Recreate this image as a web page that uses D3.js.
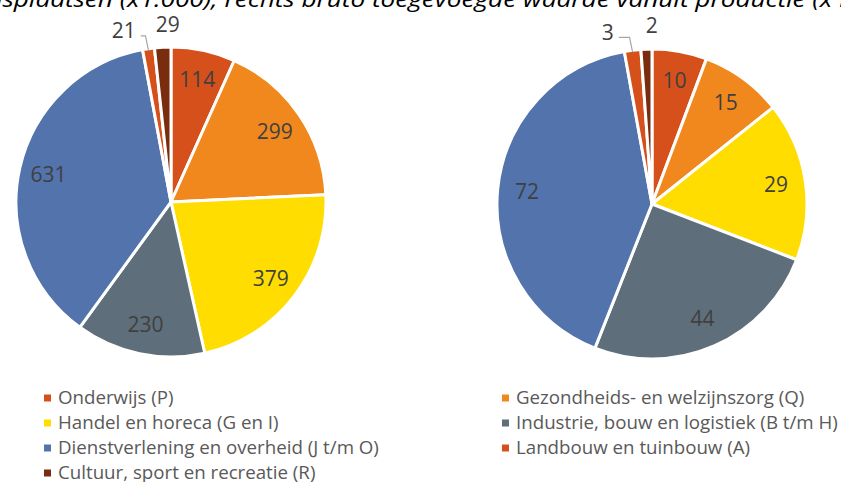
<!DOCTYPE html>
<html>
<head>
<meta charset="utf-8">
<script src="https://cdn.jsdelivr.net/npm/d3@7"></script>
<style>
  body { margin: 0; background: #fff; }
  text { font-family: "Open Sans", "Noto Sans", sans-serif; }
</style>
</head>
<body>
<div id="chart"></div>
<script>
// sectors, clockwise from 12 o'clock
var categories = [
    "Onderwijs (P)",
    "Gezondheids- en welzijnszorg (Q)",
    "Handel en horeca (G en I)",
    "Industrie, bouw en logistiek (B t/m H)",
    "Dienstverlening en overheid (J t/m O)",
    "Landbouw en tuinbouw (A)",
    "Cultuur, sport en recreatie (R)"
];
var werkgelegenheid = [114, 299, 379, 230, 631, 21, 29];   // links, x1.000
var toegevoegdeWaarde = [10, 15, 29, 44, 72, 3, 2];          // rechts
var kleuren = ["#D5501A", "#F0881E", "#FFDD00", "#5E6E7B", "#5273AB", "#D5501A", "#7A2C0E"];
var titel = "Links werkgelegenheid in arbeidsplaatsen (x1.000); rechts bruto toegevoegde waarde vanuit productie (x mld euro)";

var width = 841, height = 482;
var radius = 155;

var svg = d3.select("#chart").append("svg")
    .attr("width", width)
    .attr("height", height);

// title, cut off at the top like the original
var title = svg.append("text")
    .attr("y", 7)
    .attr("font-style", "italic")
    .attr("font-size", 22)
    .attr("fill", "#000")
    .text(titel);
var tNode = title.node();
var iA = titel.indexOf("(x1.000)"), iB = titel.indexOf("productie");
var span = tNode.getStartPositionOfChar(iB).x - tNode.getStartPositionOfChar(iA).x;
var kT = 576 / span;
var offT = 120 - tNode.getStartPositionOfChar(iA).x * kT;
title.attr("transform", "translate(" + offT + ",0) scale(" + kT + ",1)");

var pie = d3.pie().sort(null).value(function(d) { return d; });
var arc = d3.arc().innerRadius(0).outerRadius(radius);
var labelArc = d3.arc().innerRadius(radius * 0.81).outerRadius(radius * 0.81);

function drawPie(values, cx, cy) {
    var total = d3.sum(values);
    var g = svg.append("g")
        .attr("transform", "translate(" + cx + "," + cy + ")");
    var arcs = pie(values);

    g.selectAll("path.slice")
        .data(arcs)
        .enter().append("path")
        .attr("class", "slice")
        .attr("d", arc)
        .attr("fill", function(d, i) { return kleuren[i]; })
        .attr("stroke", "#fff")
        .attr("stroke-width", 3)
        .attr("stroke-linejoin", "round");

    // big slices: label inside
    g.selectAll("text.inside")
        .data(arcs.filter(function(d) { return d.value / total >= 0.03; }))
        .enter().append("text")
        .attr("class", "inside")
        .attr("transform", function(d) { return "translate(" + labelArc.centroid(d) + ")"; })
        .attr("text-anchor", "middle")
        .attr("dy", "0.35em")
        .attr("font-size", 21)
        .attr("fill", "#404040")
        .text(function(d) { return d.value; });

    // small slices: label outside, pushed apart
    var small = arcs.filter(function(d) { return d.value / total < 0.03; }).map(function(d) {
        var a = (d.startAngle + d.endAngle) / 2;
        return {
            d: d, a: a,
            x: Math.sin(a) * (radius + 18) + 6,
            y: -Math.cos(a) * (radius + 18),
            px: Math.sin(a) * radius,
            py: -Math.cos(a) * radius
        };
    });
    var origX = small.map(function(s) { return s.x; });
    for (var i = small.length - 2; i >= 0; i--) {
        if (small[i + 1].x - small[i].x < 44) small[i].x = small[i + 1].x - 44;
    }
    small.forEach(function(s, i) {
        var pushed = s.x !== origX[i];
        var ty = s.y - (pushed ? 0 : 5);
        var t = g.append("text")
            .attr("x", s.x)
            .attr("y", ty)
            .attr("text-anchor", "middle")
            .attr("dy", "0.35em")
            .attr("font-size", 21)
            .attr("fill", "#404040")
            .text(s.d.value);
        if (pushed) {
            var w = t.node().getComputedTextLength();
            var ly = ty + 5;
            g.append("path")
                .attr("d", "M" + (s.x + w / 2 + 5) + "," + ly +
                    "H" + (s.px - 3) + "L" + s.px + "," + (s.py + 2))
                .attr("fill", "none")
                .attr("stroke", "#A6A6A6")
                .attr("stroke-width", 1.2);
        }
    });
}

drawPie(werkgelegenheid, 171, 202);
drawPie(toegevoegdeWaarde, 652, 204);

// legend
var legend = svg.append("g").attr("class", "legend");
var colX = [44, 502], rowY0 = 398, rowH = 25;
var items = legend.selectAll("g.item")
    .data(categories)
    .enter().append("g")
    .attr("class", "item")
    .attr("transform", function(d, i) {
        return "translate(" + colX[i % 2] + "," + (rowY0 + Math.floor(i / 2) * rowH) + ")";
    });
items.append("rect")
    .attr("x", 0).attr("y", -3.5)
    .attr("width", 7).attr("height", 7)
    .attr("fill", function(d, i) { return kleuren[i]; });
var lt = items.append("text")
    .attr("dy", "0.35em")
    .attr("font-size", 18.5)
    .attr("fill", "#595959")
    .text(function(d) { return d; });
var longest = d3.max(lt.nodes(), function(n) { return n.getComputedTextLength(); });
var kL = 322 / longest;
lt.attr("transform", "translate(14,0) scale(" + kL + ",1)");
</script>
</body>
</html>
